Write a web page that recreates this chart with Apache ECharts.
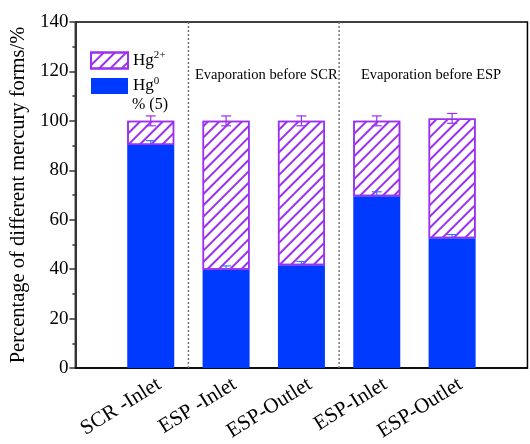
<!DOCTYPE html>
<html>
<head>
<meta charset="utf-8">
<script src="https://cdn.jsdelivr.net/npm/echarts@6/dist/echarts.min.js"></script>
<style>
  html, body { margin: 0; padding: 0; background: #fff; }
  #chart { width: 530px; height: 444px; }
</style>
</head>
<body>
<div id="chart"></div>
<script>
// categories, padded with an empty slot each side (axis runs 0..6)
const categories = ['', 'SCR -Inlet', 'ESP -Inlet', 'ESP-Outlet', 'ESP-Inlet', 'ESP-Outlet', '']
// Hg0 share and its error
const hg0 = ['-', 90.2, 39.8, 41.6, 69.5, 52.5, '-']
const hg0Err = [0, 1.8, 1.5, 1.5, 1.8, 1.5, 0]
// total (Hg0 + Hg2+) and its error
const total = ['-', 100, 100, 100, 100, 101, '-']
const totalErr = [0, 2, 2, 2, 2, 2, 0]
const hg2 = total.map((t, i) => t === '-' ? '-' : +(t - hg0[i]).toFixed(2))
const yTicks = [0, 20, 40, 60, 80, 100, 120, 140]
// dashed separators between groups
const separators = [1.5, 3.5]

const blue = '#0039ff'
const purple = '#9b30f0'
const font = '"Liberation Serif", "Times New Roman", serif'

let chart = echarts.init(document.getElementById('chart'))

// error bar renderer (lowerCap false -> only the upper whisker is drawn)
function errBar(color, lowerCap) {
    return function (params, api) {
        let x = api.value(0)
        let mid = api.coord([x, api.value(1)])
        let lo = api.coord([x, api.value(1) - api.value(2)])
        let hi = api.coord([x, api.value(1) + api.value(2)])
        let half = 5
        let st = { stroke: color, lineWidth: 1.2 }
        let start = lowerCap ? lo : mid
        let kids = [
            { type: 'line', shape: { x1: start[0], y1: start[1], x2: hi[0], y2: hi[1] }, style: st },
            { type: 'line', shape: { x1: hi[0] - half, y1: hi[1], x2: hi[0] + half, y2: hi[1] }, style: st }
        ]
        if (lowerCap) {
            kids.push({ type: 'line', shape: { x1: lo[0] - half, y1: lo[1], x2: lo[0] + half, y2: lo[1] }, style: st })
        }
        return { type: 'group', children: kids }
    }
}

let errData = (vals, errs) => vals
    .map((v, i) => v === '-' ? null : [i, v, errs[i]])
    .filter(d => d)

let option = {
    animation: false,
    grid: {
        left: 75, top: 22, right: -1, bottom: 76,
        show: true, borderColor: '#000', borderWidth: 1.5
    },
    legend: {
        orient: 'vertical',
        left: 85, top: 45,
        itemWidth: 37, itemHeight: 16,
        itemGap: 6,
        icon: 'rect',
        data: ['Hg2+', 'Hg0'],
        formatter: function (name) {
            return name === 'Hg2+' ? '{a|Hg}{b|2+}' : '{a|Hg}{b|0}'
        },
        textStyle: {
            fontFamily: font,
            rich: {
                a: { fontFamily: font, fontSize: 17, color: '#000' },
                b: { fontFamily: font, fontSize: 11, color: '#000', verticalAlign: 'top', padding: [0, 0, 10, 0] }
            }
        }
    },
    graphic: [
        { type: 'text', left: 132, top: 97, style: { text: '% (5)', fontFamily: font, fontSize: 16, fill: '#000' } },
        { type: 'text', left: 195, top: 68, style: { text: 'Evaporation before SCR', fontFamily: font, fontSize: 14.5, fill: '#000' } },
        { type: 'text', left: 361, top: 68, style: { text: 'Evaporation before ESP', fontFamily: font, fontSize: 14.5, fill: '#000' } }
    ],
    xAxis: [{
        type: 'category',
        data: categories,
        boundaryGap: false,
        splitLine: { show: false },
        axisTick: { show: false },
        axisLine: { lineStyle: { color: '#000', width: 1.5 } },
        axisLabel: {
            rotate: 32,
            margin: 20,
            interval: 0,
            fontFamily: font,
            fontSize: 21,
            color: '#000',
            padding: [0, -10, 0, 0]
        }
    }, {
        type: 'value',
        min: 0, max: 6,
        show: false
    }],
    yAxis: {
        type: 'value',
        min: 0, max: 140, interval: 20,
        name: 'Percentage of different mercury forms/%',
        nameLocation: 'middle',
        nameGap: 45,
        nameTextStyle: { fontFamily: font, fontSize: 20.5, color: '#000' },
        splitLine: { show: false },
        axisLine: { show: true, lineStyle: { color: '#333', width: 2 } },
        axisTick: { show: true, inside: false, length: 6, lineStyle: { color: '#333', width: 1.5 } },
        minorTick: { show: true, splitNumber: 2, length: 3, lineStyle: { color: '#333', width: 1.5 } },
        axisLabel: {
            fontFamily: font, fontSize: 19, color: '#000', margin: 7,
            customValues: yTicks
        }
    },
    series: [
        {
            name: 'Hg0',
            type: 'bar',
            stack: 'hg',
            barWidth: 47,
            itemStyle: { color: blue },
            data: hg0,
            z: 2
        },
        {
            name: 'Hg2+',
            type: 'bar',
            stack: 'hg',
            barWidth: 47,
            itemStyle: {
                color: '#fff',
                borderColor: purple,
                borderWidth: 1.5,
                decal: {
                    symbol: 'rect',
                    symbolSize: 1,
                    dashArrayX: [1, 0],
                    dashArrayY: [1.2, 5.5],
                    rotation: -Math.PI / 4,
                    color: purple
                }
            },
            data: hg2,
            z: 2
        },
        {
            name: 'err0',
            type: 'custom',
            renderItem: errBar('#3d70ff', false),
            data: errData(hg0, hg0Err),
            z: 5
        },
        {
            name: 'errTotal',
            type: 'custom',
            renderItem: errBar(purple, true),
            data: errData(total, totalErr),
            z: 5
        },
        {
            name: 'sep',
            type: 'custom',
            xAxisIndex: 1,
            silent: true,
            renderItem: function (params, api) {
                let top = api.coord([api.value(0), 140])
                let bottom = api.coord([api.value(0), 0])
                return {
                    type: 'line',
                    shape: { x1: top[0], y1: top[1], x2: bottom[0], y2: bottom[1] },
                    style: { stroke: '#777', lineWidth: 1.5, lineDash: [2, 2] }
                }
            },
            data: separators.map(s => [s]),
            z: 1
        }
    ]
}

chart.setOption(option)
</script>
</body>
</html>
